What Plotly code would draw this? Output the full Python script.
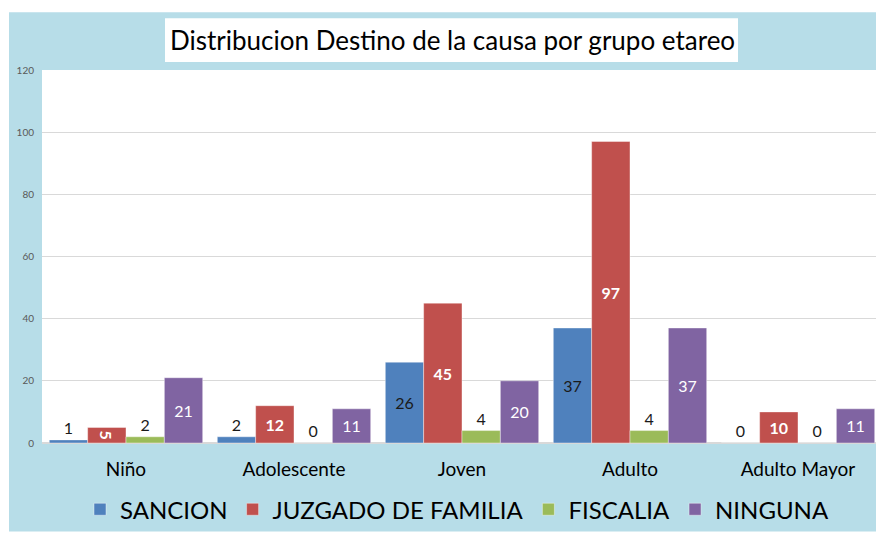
import plotly.graph_objects as go

categories = ["Niño", "Adolescente", "Joven", "Adulto", "Adulto Mayor"]
series_names = ["SANCION", "JUZGADO DE FAMILIA", "FISCALIA", "NINGUNA"]
sancion = [1, 2, 26, 37, 0]
juzgado = [5, 12, 45, 97, 10]
fiscalia = [2, 0, 4, 4, 0]
ninguna = [21, 11, 20, 37, 11]
y_ticks = [0, 20, 40, 60, 80, 100, 120]
title_text = "Distribucion Destino de la causa por grupo etareo"

colors = ["#4F81BD", "#C0504D", "#9BBB59", "#8064A2"]
label_colors = ["#1a1a1a", "white", "#1a1a1a", "white"]
label_bold = [False, True, False, False]
FONT = "Lato, sans-serif"

# page body has an 8px margin; figure is sized to fill the rest of the window
OFF = 8
W, H = 884 - OFF, 534 - OFF
ML, MR, MT, MB = 34, 2, 62, 89
PW, PH = W - ML - MR, H - MT - MB


def xp(sx):
    return (sx - OFF - ML) / PW


def yp(sy):
    return (H - MB - (sy - OFF)) / PH


fig = go.Figure()
all_values = [sancion, juzgado, fiscalia, ninguna]
for name, vals, col, lc, bold in zip(series_names, all_values, colors, label_colors, label_bold):
    positions = []
    tcolors = []
    for v in vals:
        if v < 5:
            positions.append("outside")
            tcolors.append("#1a1a1a")
        else:
            positions.append("inside")
            tcolors.append(lc)
    texts = [f"<b>{v}</b>" if bold else str(v) for v in vals]
    fig.add_trace(go.Bar(
        name=name, x=categories, y=vals,
        marker=dict(color=col, line=dict(color="rgba(255,255,255,0.5)", width=0.8)),
        text=texts, textposition=positions, insidetextanchor="middle",
        textfont=dict(color=tcolors, size=16, family=FONT),
        outsidetextfont=dict(color=tcolors, size=16, family=FONT),
        cliponaxis=False, hoverinfo="skip",
    ))

fig.update_layout(
    width=W, height=H,
    margin=dict(l=ML, r=MR, t=MT, b=MB, pad=0),
    paper_bgcolor="white", plot_bgcolor="white",
    barmode="group", bargap=0.087, bargroupgap=0,
    font=dict(family=FONT, color="black"),
    uniformtext=dict(minsize=16, mode="show"),
    showlegend=True,
    legend=dict(orientation="h", x=xp(457), xanchor="center", y=yp(512), yanchor="middle",
                font=dict(size=24, family=FONT, color="black"), bgcolor="rgba(0,0,0,0)",
                itemwidth=30, traceorder="normal"),
    shapes=[
        dict(type="rect", xref="paper", yref="paper", x0=xp(9), x1=xp(884), y0=yp(534), y1=yp(12),
             fillcolor="#B7DDE8", line=dict(width=0), layer="below"),
        dict(type="rect", xref="paper", yref="paper", x0=0, x1=1, y0=0, y1=1,
             fillcolor="white", line=dict(width=0), layer="below"),
        dict(type="rect", xref="paper", yref="paper", x0=xp(165), x1=xp(738), y0=yp(62), y1=yp(18),
             fillcolor="white", line=dict(width=0), layer="below"),
    ],
    annotations=[
        dict(text=title_text, xref="paper", yref="paper", x=xp(452), y=yp(40),
             xanchor="center", yanchor="middle", showarrow=False,
             font=dict(size=26, family=FONT, color="black")),
    ],
)
fig.update_yaxes(range=[0, 120], tickvals=y_ticks, showgrid=True, gridcolor="#D9D9D9", gridwidth=1,
                 zeroline=True, zerolinecolor="#D9D9D9", showline=False, ticks="",
                 tickfont=dict(size=10, color="#595959", family=FONT), ticklabelstandoff=7)
fig.update_xaxes(showgrid=False, showline=False, ticks="",
                 tickfont=dict(size=19, color="black", family=FONT), ticklabelstandoff=13)

fig.write_html("out.html")
